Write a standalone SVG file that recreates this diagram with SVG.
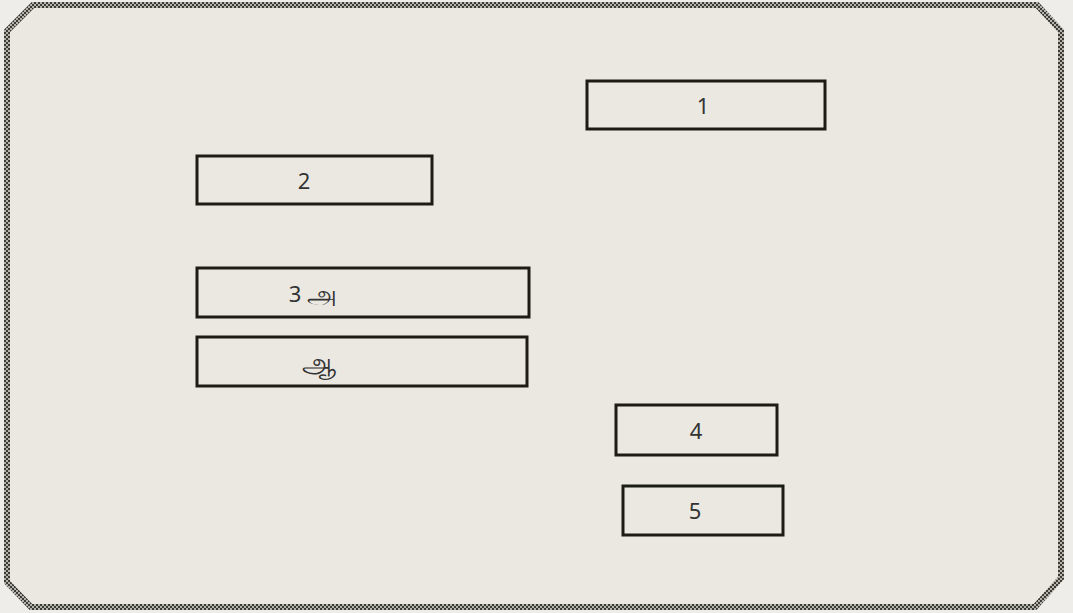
<svg xmlns="http://www.w3.org/2000/svg" width="1073" height="613" viewBox="0 0 1073 613">
  <defs>
    <pattern id="check" width="4" height="4" patternUnits="userSpaceOnUse">
      <rect width="4" height="4" fill="#b4b2ab"/>
      <rect width="2" height="2" fill="#3c3c36"/>
      <rect x="2" y="2" width="2" height="2" fill="#3c3c36"/>
    </pattern>
  </defs>
  <style>
    .box { fill: #ebe8e2; stroke: #1c1c12; stroke-width: 3; }
    .lbl { font-family: "Noto Sans", "DejaVu Sans", sans-serif; font-size: 22px; fill: #333333; text-anchor: middle; dominant-baseline: central; }
    .ta { font-size: 27px; }
  </style>
  <rect width="1073" height="613" fill="#efede9"/>
  <polygon points="33,5 1037,5 1061,31 1061,578 1035,607 31,607 7,582 7,31" fill="#ebe8e2" stroke="url(#check)" stroke-width="6"/>
  <g id="connectors"></g>
  <g id="node1"><rect class="box" x="587" y="81" width="238" height="48"/><text class="lbl" x="703" y="105">1</text></g>
  <g id="node2"><rect class="box" x="197" y="156" width="235" height="48"/><text class="lbl" x="304" y="180">2</text></g>
  <g id="node3"><rect class="box" x="197" y="268" width="332" height="49"/><text class="lbl" x="313" y="293">3 <tspan class="ta">அ</tspan></text></g>
  <g id="node3b"><rect class="box" x="197" y="337" width="330" height="49"/><text class="lbl ta" x="319" y="361">ஆ</text></g>
  <g id="node4"><rect class="box" x="616" y="405" width="161" height="50"/><text class="lbl" x="696" y="430">4</text></g>
  <g id="node5"><rect class="box" x="623" y="486" width="160" height="49"/><text class="lbl" x="695" y="510">5</text></g>
</svg>
